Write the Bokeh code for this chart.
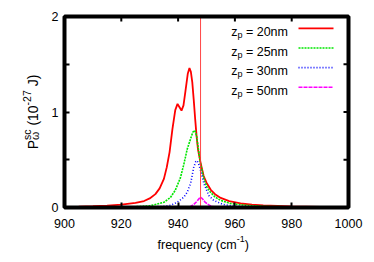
from bokeh.plotting import figure
from bokeh.models import Range1d, LinearAxis, FixedTicker, Label, BoxAnnotation
from bokeh.embed import file_html
from bokeh.resources import INLINE
import math

FONT = "Liberation Sans"

# ---------------- data ----------------
x_min, x_max = 900, 1000
y_min, y_max = 0, 2
x_ticks = [900, 920, 940, 960, 980, 1000]
y_ticks = [0, 1, 2]
y_minor_ticks = [0.5, 1.5]
resonance_freq = 947.9

freq_20 = [900, 905, 910, 915, 920, 925, 928, 930, 932, 933.5, 935, 936, 937, 938, 939,
           939.8, 940.5, 941.2, 941.9, 942.6, 943.4, 944.0, 944.5, 945.0, 945.5, 946.0,
           946.5, 947.0, 947.9, 949, 950, 951.5, 953, 955, 958, 962, 966, 970, 980, 990, 1000]
p_20 = [0.006, 0.009, 0.013, 0.02, 0.03, 0.048, 0.068, 0.095, 0.14, 0.2, 0.3, 0.42, 0.58, 0.82, 1.02,
        1.085, 1.05, 1.015, 1.07, 1.22, 1.40, 1.46, 1.42, 1.31, 1.13, 0.93,
        0.75, 0.61, 0.47, 0.33, 0.26, 0.185, 0.14, 0.10, 0.066, 0.042, 0.03, 0.022, 0.012, 0.007, 0.005]

freq_25 = [900, 910, 920, 925, 930, 932.6, 935, 937.3, 939, 940.8, 942, 943.2, 944.4, 945.2,
           945.9, 946.5, 947.2, 947.9, 949.1, 950.2, 951.4, 953, 954.9, 958.5, 962, 966, 970, 980, 1000]
p_25 = [0.0005, 0.001, 0.004, 0.008, 0.018, 0.035, 0.055, 0.105, 0.18, 0.31, 0.45, 0.61, 0.72, 0.79,
        0.806, 0.75, 0.6, 0.46, 0.3, 0.21, 0.16, 0.11, 0.075, 0.042, 0.028, 0.019, 0.013, 0.006, 0.002]

freq_30 = [900, 930, 935, 937.3, 939.7, 942, 943.2, 944.4, 945.5, 946.2, 946.7, 947.3, 947.9,
           949.1, 950.8, 952.6, 956, 960, 965, 970, 1000]
p_30 = [0.0, 0.005, 0.012, 0.022, 0.055, 0.108, 0.16, 0.25, 0.42, 0.48, 0.49, 0.45, 0.39,
        0.25, 0.126, 0.073, 0.03, 0.014, 0.007, 0.004, 0.001]

freq_50 = [900, 940, 943, 944.4, 945.5, 946.5, 947.3, 947.9, 948.6, 949.4, 950.2, 951.2, 952, 954, 960, 1000]
p_50 = [0.0, 0.001, 0.004, 0.01, 0.031, 0.06, 0.09, 0.108, 0.09, 0.06, 0.04, 0.02, 0.01, 0.004, 0.001, 0.0]

legend_labels = ["20nm", "25nm", "30nm", "50nm"]

# ---------------- styles ----------------
series = [
    (freq_20, p_20, dict(line_color="#ff0000", line_width=1.8)),
    (freq_25, p_25, dict(line_color="#00e600", line_width=1.6, line_dash="2 1")),
    (freq_30, p_30, dict(line_color="#0000ff", line_width=1.6, line_dash="1 2")),
    (freq_50, p_50, dict(line_color="#ff00ff", line_width=1.6, line_dash="4 1")),
]

# plot box geometry in canvas pixels; the frame covers the whole canvas
FL, FT, FR, FB = 64, 16, 348, 207
W_FIG, H_FIG = 370, 260
TICK = 5
sx = (FR - FL) / (x_max - x_min)
sy = (FB - FT) / (y_max - y_min)
xr = Range1d(x_min - FL / sx, x_max + (W_FIG - FR) / sx)
yr = Range1d(y_min - (H_FIG - FB) / sy, y_max + FT / sy)

p = figure(width=W_FIG, height=H_FIG, output_backend="svg", toolbar_location=None,
           x_range=xr, y_range=yr, frame_width=W_FIG, frame_height=H_FIG,
           min_border=0, x_axis_location=None, y_axis_location=None)
p.background_fill_color = "white"
p.border_fill_color = "white"
p.outline_line_color = None
p.grid.visible = False


def make_axis(loc, bounds, ticker, standoff):
    ax = LinearAxis(ticker=ticker, fixed_location=loc, bounds=bounds)
    ax.axis_line_color = None
    ax.major_tick_in = TICK
    ax.major_tick_out = 0
    ax.minor_tick_in = TICK
    ax.minor_tick_out = 0
    ax.major_tick_line_width = 2
    ax.minor_tick_line_width = 2
    ax.major_tick_line_color = "black"
    ax.minor_tick_line_color = "black"
    ax.major_label_text_font = FONT
    ax.major_label_text_color = "black"
    ax.major_label_standoff = standoff
    ax.major_label_text_font_size = "12.5px"
    return ax


xt = FixedTicker(ticks=x_ticks, minor_ticks=[])
yt = FixedTicker(ticks=y_ticks, minor_ticks=y_minor_ticks)

p.add_layout(make_axis(y_min, (x_min, x_max), xt, 11), "below")
p.add_layout(make_axis(x_min, (y_min, y_max), yt, 6), "left")

for fx, fy, st in series:
    p.line(fx, fy, **st)

p.segment(x0=[resonance_freq], y0=[y_min], x1=[resonance_freq], y1=[y_max],
          line_color="#ff3333", line_width=1, line_alpha=0.9)

# mirrored ticks on the top and right edges of the box
p.segment(x0=x_ticks, y0=[y_max] * len(x_ticks), x1=x_ticks,
          y1=[y_max - TICK / sy] * len(x_ticks), line_color="black", line_width=2)
all_y = y_ticks + y_minor_ticks
p.segment(x0=[x_max] * len(all_y), y0=all_y, x1=[x_max - TICK / sx] * len(all_y),
          y1=all_y, line_color="black", line_width=2)

p.add_layout(BoxAnnotation(left=x_min, right=x_max, bottom=y_min, top=y_max,
                           fill_alpha=0, line_color="black", line_alpha=1, line_width=4))

# ---------------- text helpers ----------------
WID = {" ": 278, "(": 333, ")": 333, "-": 333, "=": 584, "a": 556, "c": 500, "e": 556,
       "f": 278, "m": 833, "n": 556, "p": 556, "q": 556, "r": 333, "s": 500, "u": 556,
       "y": 500, "z": 500, "J": 500, "P": 667, "\u03c9": 700}


def tw(s, size):
    return sum(WID.get(ch, 556) for ch in s) / 1000.0 * size


def to_data(ix, iy):
    return (x_min + (ix - FL) / sx, y_min + (FB - iy) / sy)


def label(ix, iy, text, size, angle=0.0):
    p.add_layout(Label(x=ix, y=iy, x_units="canvas", y_units="canvas", text=text,
                       text_font=FONT, text_font_size=f"{size}px",
                       text_color="black", text_align="left", text_baseline="alphabetic",
                       angle=angle))


def run_h(segs, ix, iy):
    for text, size, off, adv in segs:
        label(ix, iy + off, text, size)
        ix += tw(text, size) if adv is None else adv


def run_v(segs, ix, iy):
    for text, size, off, adv in segs:
        label(ix + off, iy, text, size, angle=math.pi / 2)
        iy -= tw(text, size) if adv is None else adv


# x axis title
run_h([("frequency (cm", 12.5, 0, None), ("-1", 9, -6, None), (")", 12.5, 0, None)], 157, 244)

# y axis title
MS, SS = 14, 10.5
ysegs = [("P", MS, 0, None), ("\u03c9", SS, 2, 0),
         ("sc", SS, -6, max(tw("sc", SS), tw("\u03c9", SS)) + tw(" ", MS)),
         ("(10", MS, 0, None), ("-27", SS, -6, tw("-27", SS) + tw(" ", MS)), ("J)", MS, 0, None)]
total = sum(tw(t, s) if a is None else a for t, s, o, a in ysegs)
run_v(ysegs, 32.5, 111.5 + total / 2)

# legend
row_base = [31.7, 51.3, 70.9, 90.5]
for i, (lab, (fx, fy, st)) in enumerate(zip(legend_labels, series)):
    b = row_base[i]
    run_h([("z", 12.5, 0, None), ("p", 9, 3, tw("p", 9) + tw(" ", 12.5)), ("= " + lab, 12.5, 0, None)], 230.7, b)
    x0, y0 = to_data(298, b - 3.8)
    x1, _ = to_data(333, b - 3.8)
    p.line([x0, x1], [y0, y0], **st)

open("out.html", "w").write(file_html(p, INLINE))
